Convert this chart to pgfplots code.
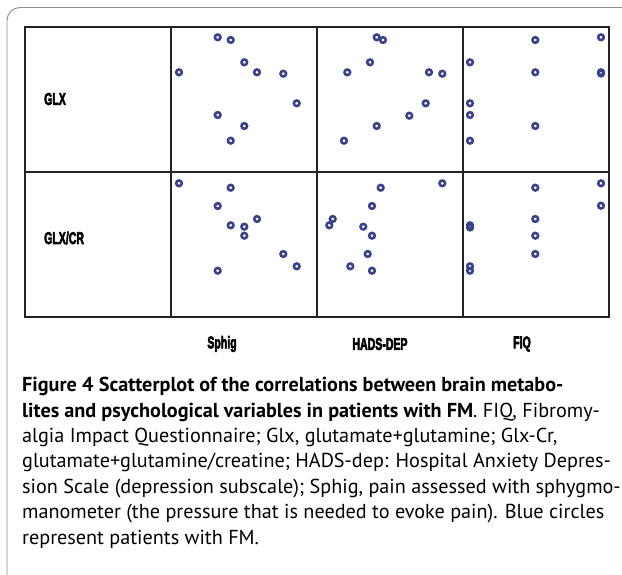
\documentclass[border=0pt]{standalone}
\usepackage{graphicx}
\usepackage{pgfplots}
\pgfplotsset{compat=1.18}
\usepackage{fontspec}
\setmainfont{Liberation Sans}
\newfontfamily\heavyfont[UprightFont={* Bold}, UprightFeatures={FakeBold=4}]{Liberation Sans}
\newfontfamily\capfont{PT Sans}
\definecolor{navy}{RGB}{58,66,140}
\definecolor{gridc}{RGB}{35,35,35}
\pgfplotsset{
  cell/.style={scale only axis, width=146pt, height=145pt,
    xmin=0, xmax=146, ymin=0, ymax=145, ticks=none, anchor=north west,
    axis line style={line width=1.5pt, color=gridc}, clip=false},
  pts/.style={only marks, mark=o, mark size=2.8pt, line width=2.6pt, color=navy}
}
\newcommand{\lab}[1]{\scalebox{0.62}[1]{#1}}
\begin{document}
\begin{tikzpicture}
\path[use as bounding box] (0pt,0pt) rectangle (622pt,-575pt);
\begin{scope}
\clip (0pt,0pt) rectangle (622pt,-575pt);
\draw[line width=0.9pt, color=black!45, rounded corners=13pt] (7pt,-590pt) rectangle (660pt,-7.5pt);
\end{scope}
% row 1 : GLX
\begin{axis}[cell, at={(25pt,-27pt)}]
\end{axis}
\begin{axis}[cell, at={(171pt,-27pt)}]
\addplot[pts] coordinates {(46.7,134.7) (59.7,132) (73.3,109.7) (8,99.7) (86,99.7) (112.3,98.3) (125.7,68.7) (46.7,57) (73.3,46) (59.7,31.3)};
\end{axis}
\begin{axis}[cell, at={(317pt,-27pt)}]
\addplot[pts] coordinates {(59.7,134.7) (66,132) (53,109.7) (30.3,99.7) (112,99.7) (125.3,98.3) (108.7,68.7) (92.3,56.3) (59.7,46) (27,31.3)};
\end{axis}
\begin{axis}[cell, at={(463pt,-27pt)}]
\addplot[pts] coordinates {(72.3,132) (138,134.7) (7,109.7) (72.3,99.7) (138,99.7) (138,98.5) (7,68.7) (7,57) (72.3,46) (7,31.3)};
\end{axis}
% row 2 : GLX/CR
\begin{axis}[cell, at={(25pt,-172pt)}]
\end{axis}
\begin{axis}[cell, at={(171pt,-172pt)}]
\addplot[pts] coordinates {(8,133.7) (59.7,129.3) (46.7,111) (86,98) (59.7,91.7) (73.3,90.3) (73.3,81.3) (112.3,63) (125.7,50.7) (46.7,46.3)};
\end{axis}
\begin{axis}[cell, at={(317pt,-172pt)}]
\addplot[pts] coordinates {(125.3,133.7) (63.7,129.3) (55,111) (15.7,98) (12.3,91.7) (46.3,90.3) (55,81.3) (50.7,63) (33.3,50.7) (55,46.3)};
\end{axis}
\begin{axis}[cell, at={(463pt,-172pt)}]
\addplot[pts] coordinates {(138,133.7) (72.3,129.3) (138,111.3) (72.3,98) (7,91.7) (7,89.5) (72.3,81.3) (72.3,63) (7,50.7) (7,46.3)};
\end{axis}
% labels
\tikzset{lab/.style={inner sep=0pt, font=\heavyfont\fontsize{17}{19}\selectfont}}
\node[lab, anchor=west] at (44pt,-99pt) {\lab{GLX}};
\node[lab, anchor=west] at (44pt,-238pt) {\lab{GLX/CR}};
\node[lab] at (222pt,-344pt) {\lab{Sphig}};
\node[lab] at (380pt,-344pt) {\lab{HADS-DEP}};
\node[lab] at (522pt,-344pt) {\lab{FIQ}};
% caption
\node[anchor=north west, inner sep=0pt, align=left, font=\capfont\fontsize{20.2}{25.4}\selectfont] at (22pt,-377pt) {%
\textbf{Figure 4} \textbf{Scatterplot of the correlations between brain metabo-}\\
\textbf{lites and psychological variables in patients with FM}. FIQ, Fibromy-\\
algia Impact Questionnaire; Glx, glutamate+glutamine; Glx-Cr,\\
glutamate+glutamine/creatine; HADS-dep: Hospital Anxiety Depres-\\
sion Scale (depression subscale); Sphig, pain assessed with sphygmo-\\
manometer (the pressure that is needed to evoke pain). Blue circles\\
represent patients with FM.};
\end{tikzpicture}
\end{document}
